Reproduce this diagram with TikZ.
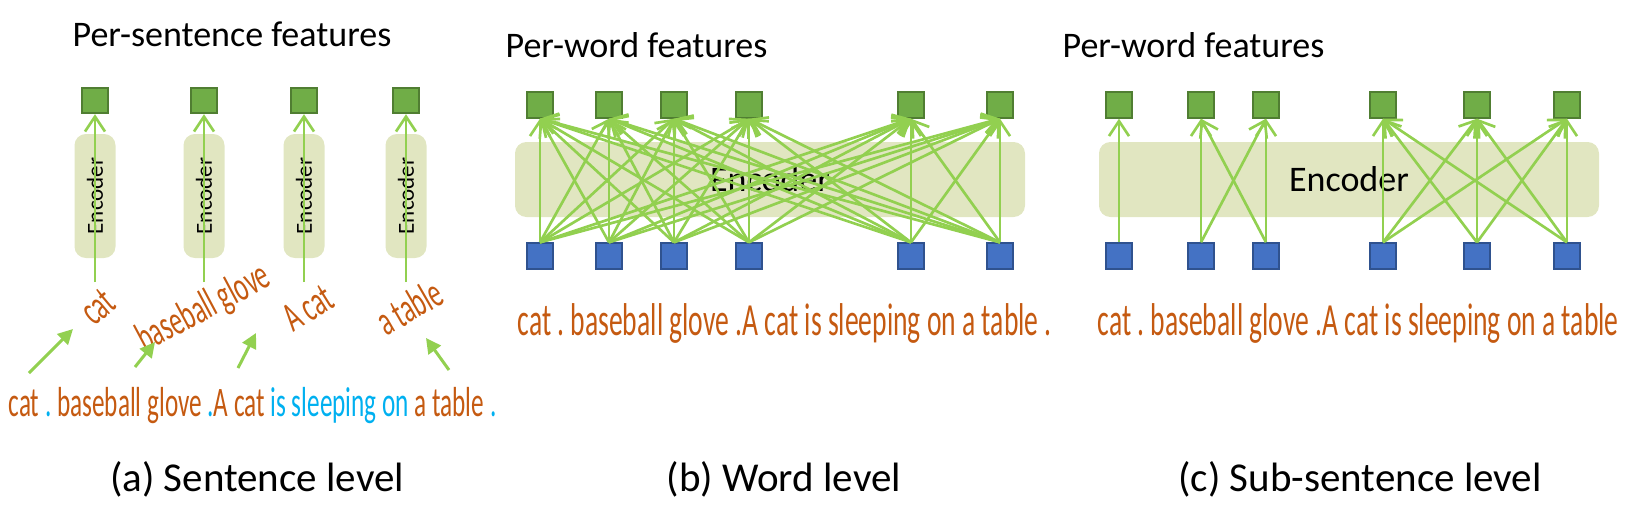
\documentclass[tikz,border=0pt]{standalone}
\usepackage{fontspec}
\setmainfont{Carlito}
\newfontfamily\narrowfont[FakeStretch=0.6]{Carlito}
\usetikzlibrary{arrows.meta,positioning}
\frenchspacing
\definecolor{featfill}{HTML}{70AD47}
\definecolor{featline}{HTML}{507E32}
\definecolor{tokfill}{HTML}{4472C4}
\definecolor{tokline}{HTML}{2F528F}
\definecolor{encfill}{HTML}{E1E6C1}
\definecolor{linkgreen}{HTML}{92D050}
\definecolor{wordorange}{HTML}{C55A11}
\definecolor{wordblue}{HTML}{00B0F0}

\tikzset{
  featsq/.style={draw=featline, fill=featfill, line width=0.6pt, minimum size=7.6pt, inner sep=0pt},
  toksq/.style={draw=tokline, fill=tokfill, line width=0.6pt, minimum size=7.6pt, inner sep=0pt},
  encbox/.style={fill=encfill, rounded corners=3.4pt, inner sep=0pt},
  link/.style={draw=linkgreen, line width=0.8pt, -{Straight Barb[length=4.5pt,width=6pt]}},
  pick/.style={draw=linkgreen, line width=0.9pt, -{Triangle[length=4.5pt,width=4.5pt]}},
  heading/.style={font=\fontsize{10.8}{13}\selectfont, inner sep=0pt, anchor=base west},
  subcap/.style={font=\fontsize{12.3}{15}\selectfont, inner sep=0pt, anchor=base},
  wordA/.style={text=wordorange, font=\narrowfont\fontsize{12.6}{15}\selectfont, inner sep=0pt},
  wordB/.style={text=wordorange, font=\narrowfont\fontsize{13.8}{16}\selectfont, inner sep=0pt, anchor=base west},
}

\begin{document}
\begin{tikzpicture}[x=0.3pt, y=-0.3pt]
  \useasboundingbox (0,0) rectangle (1632,504);

  % (a) Sentence level
  \node[heading] (headA) at (72,46) {Per-sentence features};
  \foreach \i/\x in {1/95,2/204,3/304,4/406} {
    \node[encbox, minimum width=37.2pt, minimum height=12.3pt, rotate=90,
      font=\fontsize{6.9}{8}\selectfont] (encA\i) at (\x,196) {Encoder};
    \node[featsq] (featA\i) at (\x,100.5) {};
    \coordinate (inA\i) at (\x,282);
    \draw[link] (inA\i) -- (featA\i);
  }

  % picked phrases
  \node[wordA, rotate=40] (phA1) at (98,307) {cat};
  \node[wordA, rotate=28] (phA2) at (204,309) {baseball glove};
  \node[wordA, rotate=32] (phA3) at (308,308) {A cat};
  \node[wordA, rotate=30] (phA4) at (409,307) {a table};

  \node[wordA, anchor=base west] (sentA) at (8,416)
    {cat \textcolor{wordblue}{.} baseball glove \textcolor{wordblue}{.}A cat \textcolor{wordblue}{is sleeping on} a table \textcolor{wordblue}{.}};

  \coordinate (fromA1) at (29,373);  \coordinate (toA1) at (73,329);
  \coordinate (fromA2) at (135,367); \coordinate (toA2) at (155,342);
  \coordinate (fromA3) at (238,368); \coordinate (toA3) at (256,333);
  \coordinate (fromA4) at (449,370); \coordinate (toA4) at (426,338);
  \foreach \i in {1,...,4}
    \draw[pick] (fromA\i) -- (toA\i);

  \node[subcap] (capA) at (257,491) {(a) Sentence level};

  % (b) Word level
  \node[heading] (headB) at (505,57) {Per-word features};
  \node[encbox, minimum width=153pt, minimum height=22.5pt,
    font=\fontsize{10.8}{13}\selectfont] (encB) at (770,179.5) {Encoder};
  \foreach \i/\x in {1/540,2/609,3/674,4/749,5/911,6/1000} {
    \node[featsq] (featB\i) at (\x,105) {};
    \node[toksq] (tokB\i) at (\x,256) {};
  }
  \foreach \i in {1,...,6}
    \foreach \j in {1,...,6}
      \draw[link] (tokB\i.north) -- (featB\j.south);
  \node[wordB] (sentB) at (517,335) {cat . baseball glove .A cat is sleeping on a table .};
  \node[subcap] (capB) at (784,491) {(b) Word level};

  % (c) Sub-sentence level
  \node[heading] (headC) at (1062,57) {Per-word features};
  \node[encbox, minimum width=150pt, minimum height=22.5pt,
    font=\fontsize{10.8}{13}\selectfont] (encC) at (1349,179.5) {Encoder};
  \foreach \i/\x in {1/1119,2/1201,3/1266,4/1383,5/1477,6/1567} {
    \node[featsq] (featC\i) at (\x,105) {};
    \node[toksq] (tokC\i) at (\x,256) {};
  }
  \foreach \i/\j in {1/1, 2/2,2/3,3/2,3/3, 4/4,4/5,4/6,5/4,5/5,5/6,6/4,6/5,6/6}
    \draw[link] (tokC\i.north) -- (featC\j.south);
  \node[wordB] (sentC) at (1097,335) {cat . baseball glove .A cat is sleeping on a table};
  \node[subcap] (capC) at (1360,491) {(c) Sub-sentence level};

\end{tikzpicture}
\end{document}
